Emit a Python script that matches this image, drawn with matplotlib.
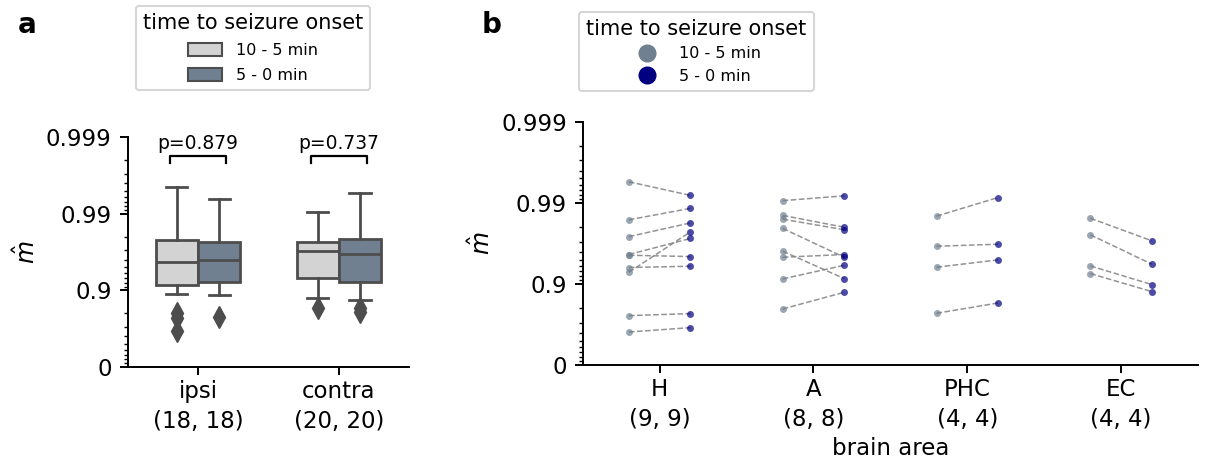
import numpy as np
import matplotlib
matplotlib.use("Agg")
import matplotlib.pyplot as plt
from matplotlib.patches import Patch
from matplotlib.lines import Line2D
from matplotlib.ticker import FixedLocator

# ---------------- data ----------------
hemispheres = ["ipsi", "contra"]
hemi_counts = ["(18, 18)", "(20, 20)"]
p_values = ["p=0.879", "p=0.737"]
time_labels = ["10 - 5 min", "5 - 0 min"]

# box statistics (m-hat values) per hemisphere, [10-5 min, 5-0 min]
ipsi_whislo = [0.8868, 0.8844]
ipsi_q1 = [0.9145, 0.9226]
ipsi_med = [0.9576, 0.9597]
ipsi_q3 = [0.9779, 0.9768]
ipsi_whishi = [0.9955, 0.9936]
ipsi_fliers = [[0.7996, 0.7672, 0.6619], [0.7741]]

contra_whislo = [0.8724, 0.8645]
contra_q1 = [0.9313, 0.9226]
contra_med = [0.9695, 0.9663]
contra_q3 = [0.9768, 0.9786]
contra_whishi = [0.9905, 0.9946]
contra_fliers = [[0.8274], [0.8274, 0.8090]]

areas = ["H", "A", "PHC", "EC"]
area_counts = ["(9, 9)", "(8, 8)", "(4, 4)", "(4, 4)"]
H_early = [0.9945, 0.9838, 0.9739, 0.9566, 0.9557, 0.9372, 0.9282, 0.7540, 0.6083]
H_late = [0.9919, 0.9883, 0.9823, 0.9725, 0.9540, 0.9395, 0.9772, 0.7677, 0.6541]
A_early = [0.9906, 0.9857, 0.9841, 0.9793, 0.9605, 0.9531, 0.9133, 0.7963]
A_late = [0.9918, 0.9800, 0.9785, 0.9531, 0.9141, 0.9566, 0.9411, 0.8732]
PHC_early = [0.9854, 0.9657, 0.9378, 0.7699]
PHC_late = [0.9914, 0.9676, 0.9494, 0.8282]
EC_early = [0.9845, 0.9752, 0.9400, 0.9255]
EC_late = [0.9706, 0.9429, 0.8981, 0.8755]

ytick_vals = [0, 0.9, 0.99, 0.999]
ytick_labels = ["0", "0.9", "0.99", "0.999"]


def tr(m):
    """transform m-hat to -log10(1 - m)"""
    return -np.log10(1.0 - np.asarray(m, dtype=float))


# ---------------- style ----------------
LIGHT = "#d3d3d3"
DARK = "#708090"
EDGE = "#4d4d4d"

plt.rcParams["font.family"] = ["DejaVu Sans"]

fig = plt.figure(figsize=(12.1, 4.66), dpi=100)
axa = fig.add_axes([0.1055, 0.2131, 0.2327, 0.4923])
axb = fig.add_axes([0.4816, 0.2167, 0.5085, 0.5221])

minor_pos = []
for d in range(3):
    for k in range(2, 10):
        minor_pos.append(-np.log10(k * 10.0 ** (-(d + 1))))


def style_axes(ax):
    ax.set_ylim(0, 3)
    ax.set_yticks(tr(ytick_vals))
    ax.set_yticklabels(ytick_labels)
    ax.yaxis.set_minor_locator(FixedLocator(minor_pos))
    for s in ["top", "right"]:
        ax.spines[s].set_visible(False)
    for s in ["left", "bottom"]:
        ax.spines[s].set_linewidth(1.4)
    ax.tick_params(axis="both", which="major", labelsize=16.5, length=5.5, width=1.4, pad=4)
    ax.tick_params(axis="y", which="major", pad=6)
    ax.tick_params(axis="y", which="minor", length=3.2, width=1.0)
    ax.set_ylabel(r"$\hat{m}$", fontsize=17)
    for t in ax.get_xticklabels():
        t.set_linespacing(1.38)


# ---------------- panel a ----------------
group_stats = [
    (ipsi_whislo, ipsi_q1, ipsi_med, ipsi_q3, ipsi_whishi, ipsi_fliers),
    (contra_whislo, contra_q1, contra_med, contra_q3, contra_whishi, contra_fliers),
]
offsets = [-0.15, 0.15]
colors = [LIGHT, DARK]
for gi, (wlo, q1, med, q3, whi, fl) in enumerate(group_stats):
    for hi in range(2):
        st = dict(whislo=float(tr(wlo[hi])), q1=float(tr(q1[hi])), med=float(tr(med[hi])),
                  q3=float(tr(q3[hi])), whishi=float(tr(whi[hi])), fliers=tr(fl[hi]))
        axa.bxp([st], positions=[gi + offsets[hi]], widths=0.3, patch_artist=True,
                showfliers=True,
                boxprops=dict(facecolor=colors[hi], edgecolor=EDGE, linewidth=2.0),
                medianprops=dict(color=EDGE, linewidth=2.0),
                whiskerprops=dict(color=EDGE, linewidth=2.0),
                capprops=dict(color=EDGE, linewidth=2.0),
                capwidths=0.15,
                flierprops=dict(marker="d", markerfacecolor=EDGE, markeredgecolor=EDGE,
                                markersize=11, linestyle="none"))

axa.set_xlim(-0.5, 1.5)
axa.set_xticks([0, 1])
axa.set_xticklabels([f"{h}\n{c}" for h, c in zip(hemispheres, hemi_counts)])
style_axes(axa)

for gi, p in enumerate(p_values):
    yb, yt = 2.66, 2.755
    axa.plot([gi - 0.2, gi - 0.2, gi + 0.2, gi + 0.2], [yb, yt, yt, yb], color="black", lw=1.6)
    axa.text(gi, 2.79, p, ha="center", va="bottom", fontsize=13.5)

handles_a = [Patch(facecolor=c, edgecolor=EDGE, linewidth=1.5, label=l) for c, l in zip(colors, time_labels)]
leg_a = axa.legend(handles=handles_a, title="time to seizure onset", loc="upper center",
                   bbox_to_anchor=(0.2091, 0.987), bbox_transform=fig.transFigure,
                   borderaxespad=0,
                   fontsize=11.5, title_fontsize=15, frameon=True, fancybox=True,
                   handlelength=2.1, handleheight=0.9, borderpad=0.45, labelspacing=0.6,
                   handletextpad=0.9)
leg_a.get_frame().set_linewidth(1.5)
leg_a.get_frame().set_edgecolor("#cccccc")

# ---------------- panel b ----------------
early_all = [H_early, A_early, PHC_early, EC_early]
late_all = [H_late, A_late, PHC_late, EC_late]
for i in range(len(areas)):
    e = tr(early_all[i])
    l = tr(late_all[i])
    for ye, yl in zip(e, l):
        axb.plot([i - 0.2, i + 0.2], [ye, yl], color="gray", ls="--", lw=1.1, alpha=0.85, zorder=1)
    axb.plot(np.full(len(e), i - 0.2), e, "o", color="slategray", alpha=0.7, ms=5, mew=0, zorder=2)
    axb.plot(np.full(len(l), i + 0.2), l, "o", color="navy", alpha=0.7, ms=5, mew=0, zorder=2)

axb.set_xlim(-0.5, 3.5)
axb.set_xticks(range(len(areas)))
axb.set_xticklabels([f"{a}\n{c}" for a, c in zip(areas, area_counts)])
axb.set_xlabel("brain area", fontsize=16.5, labelpad=4)
style_axes(axb)

handles_b = [Line2D([], [], marker="o", color="slategray", ls="none", ms=12, label=time_labels[0]),
             Line2D([], [], marker="o", color="navy", ls="none", ms=12, label=time_labels[1])]
leg_b = axb.legend(handles=handles_b, title="time to seizure onset", loc="upper center",
                   bbox_to_anchor=(0.5756, 0.974), bbox_transform=fig.transFigure,
                   borderaxespad=0,
                   fontsize=11.5, title_fontsize=15, frameon=True, fancybox=True,
                   borderpad=0.45, labelspacing=0.45, handletextpad=1.0)
leg_b.get_frame().set_linewidth(1.5)
leg_b.get_frame().set_edgecolor("#cccccc")

fig.text(0.015, 0.93, "a", fontsize=20, fontweight="bold", ha="left", va="baseline")
fig.text(0.398, 0.93, "b", fontsize=20, fontweight="bold", ha="left", va="baseline")

fig.savefig("out.png", dpi=100)
